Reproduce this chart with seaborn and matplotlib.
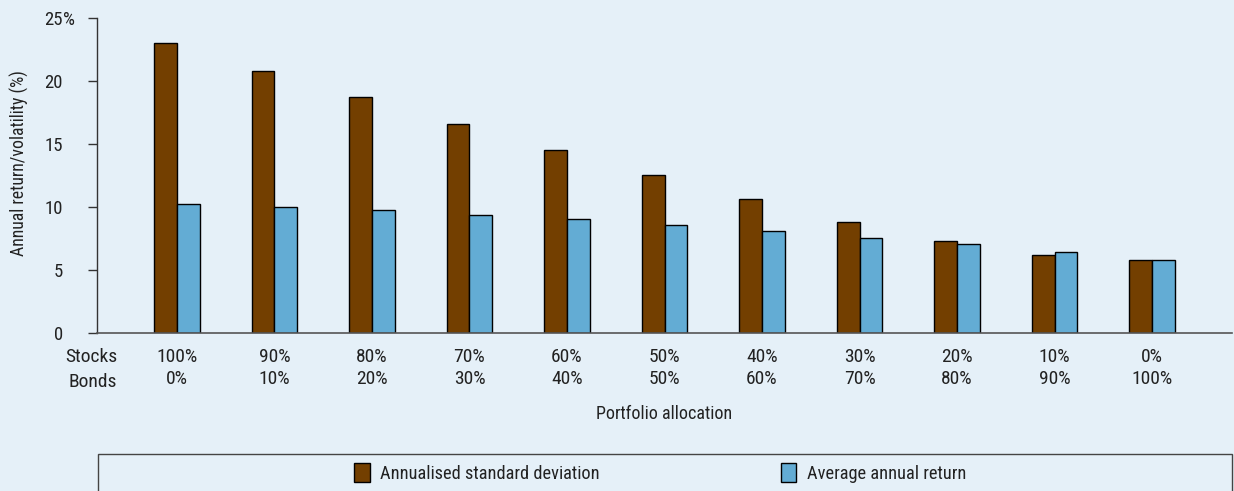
import matplotlib
matplotlib.use("Agg")
import matplotlib.pyplot as plt
import seaborn as sns
import pandas as pd
from matplotlib.patches import Rectangle, Patch

stocks = ["100%", "90%", "80%", "70%", "60%", "50%", "40%", "30%", "20%", "10%", "0%"]
bonds = ["0%", "10%", "20%", "30%", "40%", "50%", "60%", "70%", "80%", "90%", "100%"]
std_dev = [23.0, 20.8, 18.7, 16.6, 14.5, 12.5, 10.6, 8.8, 7.25, 6.15, 5.75]
avg_ret = [10.2, 9.95, 9.7, 9.35, 9.0, 8.55, 8.1, 7.55, 7.0, 6.4, 5.75]
series_names = ["Annualised standard deviation", "Average annual return"]
y_ticks = [0, 5, 10, 15, 20, 25]

categories = [f"{s}\n{b}" for s, b in zip(stocks, bonds)]
df = pd.DataFrame({
    "alloc": categories * 2,
    "value": std_dev + avg_ret,
    "series": [series_names[0]] * len(categories) + [series_names[1]] * len(categories),
})

BG = "#e5f0f8"
BROWN = "#733f00"
BLUE = "#63acd4"
TXT = "#222222"
sns.set_theme(style="white")
plt.rcParams["font.family"] = ["Roboto Condensed", "Liberation Sans Narrow", "Roboto", "DejaVu Sans"]
plt.rcParams["text.color"] = TXT

fig = plt.figure(figsize=(12.34, 4.91), dpi=100, facecolor=BG)
W, H = 1234, 491
ax = fig.add_axes([97 / W, 1 - 332.5 / H, (1232 - 97) / W, (332.5 - 18) / H])
ax.set_facecolor(BG)

sns.barplot(data=df, x="alloc", y="value", hue="series",
            palette=[BROWN, BLUE], width=0.47, edgecolor="black",
            linewidth=1.0, ax=ax, legend=False, saturation=1)

ax.set_xlim(-0.82, 10.82)
ax.set_ylim(0, 25)
ax.set_yticks(y_ticks)
ax.set_yticklabels([str(t) for t in y_ticks], fontsize=13.5, color=TXT)
ax.tick_params(axis="y", direction="out", length=6.5, width=1, color="#333333", pad=18, left=True)
ax.tick_params(axis="x", length=0, pad=11, labelsize=14, labelcolor=TXT)
for lab in ax.get_xticklabels():
    lab.set_linespacing(1.33)

ax.annotate("%", xy=(0, 25), xycoords=("axes fraction", "data"),
            xytext=(-24.5, 0), textcoords="offset points",
            ha="left", va="center_baseline", fontsize=13.5, color=TXT)

for side in ["top", "right"]:
    ax.spines[side].set_visible(False)
ax.spines["left"].set_color("#333333")
ax.spines["left"].set_linewidth(1)
ax.spines["bottom"].set_color("#555555")
ax.spines["bottom"].set_linewidth(1.2)

ax.set_ylabel("Annual return/volatility (%)", fontsize=12.8, color=TXT)
ax.yaxis.label.set_va("center")
ax.yaxis.set_label_coords(-0.068, 0.54)
ax.set_xlabel("Portfolio allocation", fontsize=13, color=TXT)
ax.xaxis.label.set_va("center")
ax.xaxis.set_label_coords(0.5, -0.258)

fig.text(117 / W, 1 - 357 / H, "Stocks", ha="right", va="center", fontsize=14, color=TXT)
fig.text(117 / W, 1 - 382 / H, "Bonds", ha="right", va="center", fontsize=14, color=TXT)

# legend box
fig.patches.append(Rectangle((98 / W, -0.02), (1232 - 98) / W, 0.02 + (491 - 454) / H,
                             transform=fig.transFigure, facecolor="none",
                             edgecolor="#444444", linewidth=1.0))
handles = [Patch(facecolor=BROWN, edgecolor="black"), Patch(facecolor=BLUE, edgecolor="black")]
fig.legend(handles, series_names, loc="center", bbox_to_anchor=(660 / W, 1 - 473 / H),
           ncol=2, frameon=False, fontsize=13.2, handlelength=0.85, handleheight=1.15,
           handletextpad=0.55, columnspacing=9.9)

fig.savefig("out.png", dpi=100, facecolor=BG)
